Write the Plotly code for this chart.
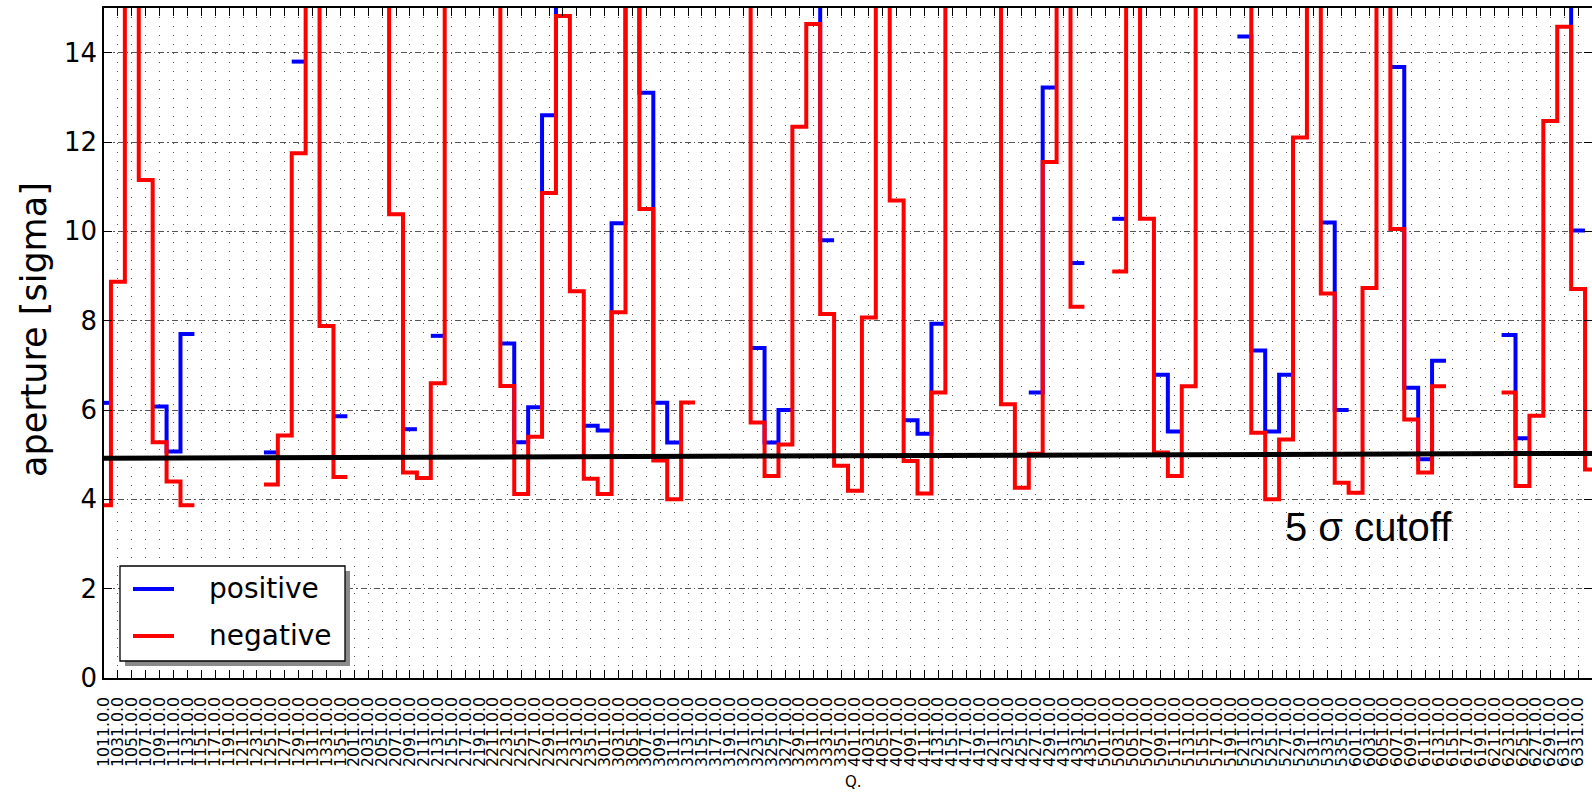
import plotly.graph_objects as go

N = None
q_labels = [
    "1011.0.0", "1031.0.0", "1051.0.0", "1071.0.0", "1091.0.0", "1111.0.0", "1131.0.0", "1151.0.0", "1171.0.0",
    "1191.0.0", "1211.0.0", "1231.0.0", "1251.0.0", "1271.0.0", "1291.0.0", "1311.0.0", "1331.0.0", "1351.0.0",
    "2011.0.0", "2031.0.0", "2051.0.0", "2071.0.0", "2091.0.0", "2111.0.0", "2131.0.0", "2151.0.0", "2171.0.0",
    "2191.0.0", "2211.0.0", "2231.0.0", "2251.0.0", "2271.0.0", "2291.0.0", "2311.0.0", "2331.0.0", "2351.0.0",
    "3011.0.0", "3031.0.0", "3051.0.0", "3071.0.0", "3091.0.0", "3111.0.0", "3131.0.0", "3151.0.0", "3171.0.0",
    "3191.0.0", "3211.0.0", "3231.0.0", "3251.0.0", "3271.0.0", "3291.0.0", "3311.0.0", "3331.0.0", "3351.0.0",
    "4011.0.0", "4031.0.0", "4051.0.0", "4071.0.0", "4091.0.0", "4111.0.0", "4131.0.0", "4151.0.0", "4171.0.0",
    "4191.0.0", "4211.0.0", "4231.0.0", "4251.0.0", "4271.0.0", "4291.0.0", "4311.0.0", "4331.0.0", "4351.0.0",
    "5011.0.0", "5031.0.0", "5051.0.0", "5071.0.0", "5091.0.0", "5111.0.0", "5131.0.0", "5151.0.0", "5171.0.0",
    "5191.0.0", "5211.0.0", "5231.0.0", "5251.0.0", "5271.0.0", "5291.0.0", "5311.0.0", "5331.0.0", "5351.0.0",
    "6011.0.0", "6031.0.0", "6051.0.0", "6071.0.0", "6091.0.0", "6111.0.0", "6131.0.0", "6151.0.0", "6171.0.0",
    "6191.0.0", "6211.0.0", "6231.0.0", "6251.0.0", "6271.0.0", "6291.0.0", "6311.0.0", "6331.0.0", "6351.0.0",
]

# aperture values (sigma); values of 16 are off-scale (> 15), None = no data
positive = [
    6.16, N, N, N, 6.08, 5.07, 7.70, N, N, N, N, N, 5.05, N, 13.80, N, N, 5.86,
    N, N, N, N, 5.57, N, 7.66, N, N, N, N, 7.49, 5.28, 6.06, 12.60, 16.0, N, 5.65,
    5.54, 10.18, 16.0, 13.10, 6.16, 5.27, N, N, N, N, N, 7.39, 5.27, 6.00, N, 16.0, 9.80, N,
    N, N, N, N, 5.77, 5.47, 7.93, N, N, N, N, N, N, 6.39, 13.22, N, 9.29, N,
    N, 10.28, N, N, 6.79, 5.52, N, N, N, N, 14.36, 7.33, 5.52, 6.79, N, N, 10.20, 6.00,
    N, N, N, 13.68, 6.50, 4.90, 7.10, N, N, N, N, 7.68, 5.37, N, N, 16.0, 10.02, N,
]
negative = [
    3.87, 8.87, 16.0, 11.15, 5.28, 4.40, 3.87, N, N, N, N, N, 4.33, 5.43, 11.75, 16.0, 7.88, 4.50,
    N, N, 16.0, 10.38, 4.60, 4.48, 6.60, 16.0, N, N, 16.0, 6.54, 4.12, 5.40, 10.86, 14.82, 8.66, 4.46,
    4.12, 8.19, 16.0, 10.50, 4.87, 4.00, 6.17, N, N, N, 16.0, 5.72, 4.52, 5.23, 12.34, 14.64, 8.15, 4.75,
    4.19, 8.07, 16.0, 10.69, 4.86, 4.13, 6.39, 16.0, N, N, 16.0, 6.13, 4.26, 5.02, 11.55, 16.0, 8.31, N,
    N, 9.10, 16.0, 10.28, 5.05, 4.52, 6.53, 16.0, N, N, 16.0, 5.49, 4.00, 5.34, 12.10, 16.0, 8.61, 4.37,
    4.15, 8.73, 16.0, 10.05, 5.79, 4.60, 6.53, N, N, N, N, 6.39, 4.30, 5.87, 12.47, 14.58, 8.71, 4.67,
]
cutoff_x = [0, 108]
cutoff_y = [4.92, 5.03]
y_ticks = [0, 2, 4, 6, 8, 10, 12, 14]


def steps_mid(vals):
    """matplotlib-like 'steps-mid' path built from category indices."""
    xs, ys = [], []
    n = len(vals)
    for i, v in enumerate(vals):
        if v is None:
            continue
        prev_ok = i > 0 and vals[i - 1] is not None
        next_ok = i < n - 1 and vals[i + 1] is not None
        if not prev_ok:
            if xs:
                xs.append(None)
                ys.append(None)
            xs.append(max(i - 0.5, 0))
            ys.append(v)
        right = i + 0.5 if i < n - 1 else i
        xs.append(right)
        ys.append(v)
        if next_ok:
            xs.append(right)
            ys.append(vals[i + 1])
    return xs, ys


W, H = 1592, 792
ML, MR, MT, MB = 104, 0, 8, 114
PW, PH = W - ML - MR, H - MT - MB


def px(x):
    return (x - ML) / PW


def py(y):
    return (H - MB - y) / PH


fig = go.Figure()
bx, by = steps_mid(positive)
rx, ry = steps_mid(negative)
fig.add_trace(go.Scatter(x=bx, y=by, mode="lines", name="positive",
                         line=dict(color="#0000ff", width=4), connectgaps=False))
fig.add_trace(go.Scatter(x=rx, y=ry, mode="lines", name="negative",
                         line=dict(color="#ff0000", width=4), connectgaps=False))
fig.add_trace(go.Scatter(x=cutoff_x, y=cutoff_y, mode="lines", name="5 sigma cutoff",
                         line=dict(color="black", width=5)))

# legend box drawn like the matplotlib shadowed legend
legend_shapes = [
    dict(type="rect", xref="paper", yref="paper", x0=px(125), x1=px(350), y0=py(666), y1=py(571),
         fillcolor="#8a8a8a", line=dict(width=0), layer="above"),
    dict(type="rect", xref="paper", yref="paper", x0=px(120), x1=px(345), y0=py(661), y1=py(566),
         fillcolor="white", line=dict(color="black", width=1.3), layer="above"),
    dict(type="line", xref="paper", yref="paper", x0=px(133), x1=px(174), y0=py(589), y1=py(589),
         line=dict(color="#0000ff", width=4), layer="above"),
    dict(type="line", xref="paper", yref="paper", x0=px(133), x1=px(174), y0=py(636), y1=py(636),
         line=dict(color="#ff0000", width=4), layer="above"),
]

fig.update_layout(
    width=W, height=H,
    margin=dict(l=ML, r=MR, t=MT, b=MB, pad=0),
    paper_bgcolor="white", plot_bgcolor="white",
    font=dict(family="DejaVu Sans", color="black"),
    showlegend=False,
    xaxis=dict(range=[0, 107], tickmode="array", tickvals=list(range(len(q_labels))),
               ticktext=q_labels, tickangle=-90, ticklabelstandoff=11,
               tickfont=dict(family="DejaVu Sans", size=15.7, color="black"),
               ticks="inside", ticklen=8, tickcolor="black", tickwidth=1,
               showline=True, linecolor="black", linewidth=1.5, mirror="ticks",
               showgrid=True, gridcolor="#555555", gridwidth=1, griddash="1px,8px",
               zeroline=False, automargin=False),
    yaxis=dict(range=[0, 15], tickmode="array", tickvals=y_ticks,
               tickfont=dict(family="DejaVu Sans", size=26, color="black"),
               ticks="inside", ticklen=8, tickcolor="black", tickwidth=1,
               showline=True, linecolor="black", linewidth=1.5, mirror="ticks",
               showgrid=True, gridcolor="#555555", gridwidth=1, griddash="6px,3px,1.5px,3px",
               zeroline=False, automargin=False),
    shapes=legend_shapes,
    annotations=[
        dict(text="positive", xref="paper", yref="paper", x=px(207), y=py(588),
             showarrow=False, xanchor="left", yanchor="middle",
             font=dict(family="DejaVu Sans", size=28, color="black")),
        dict(text="negative", xref="paper", yref="paper", x=px(207), y=py(635),
             showarrow=False, xanchor="left", yanchor="middle",
             font=dict(family="DejaVu Sans", size=28, color="black")),
        dict(text="aperture [sigma]", xref="paper", yref="paper", x=px(34), y=py(330),
             textangle=-90, showarrow=False, xanchor="center", yanchor="middle",
             font=dict(family="DejaVu Sans", size=35, color="black")),
        dict(text="Q.", xref="paper", yref="paper", x=px(853), y=py(782),
             showarrow=False, xanchor="center", yanchor="middle",
             font=dict(family="DejaVu Sans", size=15, color="black")),
        dict(text="5 σ cutoff", xref="paper", yref="paper", x=px(1283), y=py(527),
             showarrow=False, xanchor="left", yanchor="middle",
             font=dict(family="Liberation Sans, Arial", size=40, color="black")),
    ],
)

fig.write_html("out.html")
